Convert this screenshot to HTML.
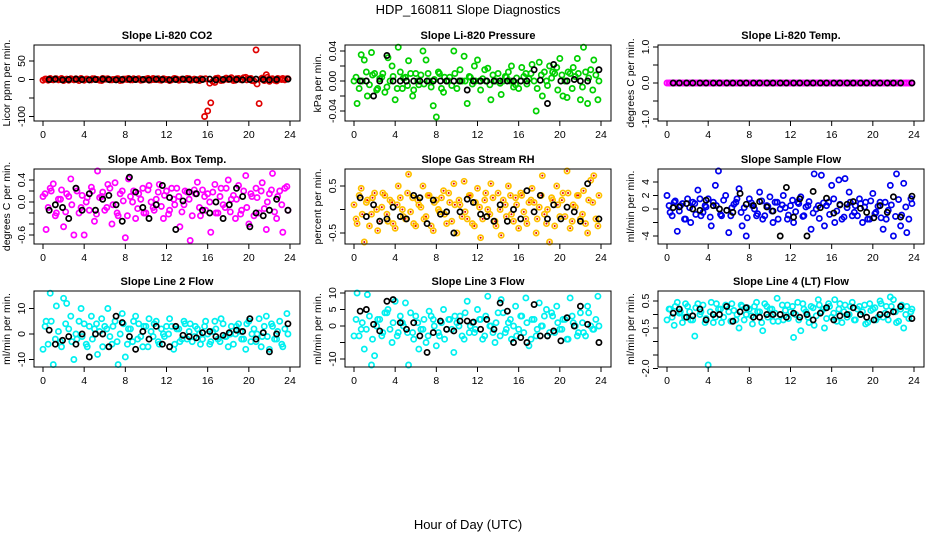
<!DOCTYPE html>
<html><head><meta charset="utf-8">
<style>
html,body{margin:0;padding:0;background:#fff;}
svg{display:block;font-family:"Liberation Sans",Arial,sans-serif;}
</style></head>
<body>
<svg id="chart" width="936" height="540" viewBox="0 0 936 540" xmlns="http://www.w3.org/2000/svg">
<rect width="936" height="540" fill="#fff"/>
<text x="468" y="14" font-size="13" text-anchor="middle">HDP_160811  Slope Diagnostics</text>
<text x="468" y="529" font-size="13" text-anchor="middle">Hour of Day (UTC)</text>
</svg>
<script>
const hoursC=[0.0,0.3,0.7,1.0,1.3,1.7,2.0,2.3,2.7,3.0,3.3,3.7,4.0,4.3,4.7,5.0,5.3,5.7,6.0,6.3,6.7,7.0,7.3,7.7,8.0,8.3,8.7,9.0,9.3,9.7,10.0,10.3,10.7,11.0,11.3,11.7,12.0,12.3,12.7,13.0,13.3,13.7,14.0,14.3,14.7,15.0,15.3,15.7,16.0,16.3,16.7,17.0,17.3,17.7,18.0,18.3,18.7,19.0,19.3,19.7,20.0,20.3,20.7,21.0,21.3,21.7,22.0,22.3,22.7,23.0,23.3,23.7];
const hoursD=[0.2,0.5,0.8,1.2,1.5,1.8,2.2,2.5,2.8,3.2,3.5,3.8,4.2,4.5,4.8,5.2,5.5,5.8,6.2,6.5,6.8,7.2,7.5,7.8,8.2,8.5,8.8,9.2,9.5,9.8,10.2,10.5,10.8,11.2,11.5,11.8,12.2,12.5,12.8,13.2,13.5,13.8,14.2,14.5,14.8,15.2,15.5,15.8,16.2,16.5,16.8,17.2,17.5,17.8,18.2,18.5,18.8,19.2,19.5,19.8,20.2,20.5,20.8,21.2,21.5,21.8,22.2,22.5,22.8,23.2,23.5,23.8];
const hoursK=[0.6,1.2,1.9,2.5,3.2,3.8,4.5,5.1,5.8,6.4,7.1,7.7,8.4,9.0,9.7,10.3,11.0,11.6,12.3,12.9,13.6,14.2,14.9,15.5,16.2,16.8,17.5,18.1,18.8,19.4,20.1,20.7,21.4,22.0,22.7,23.8];
const xTicks=[0,4,8,12,16,20,24];

const co2C=[-2,1,3,-1,2,0,-3,1,2,-1,0,3,-2,1,-1,2,0,-3,1,2,-1,0,2,-2,1,3,-1,0,2,-1,1,-2,3,0,-1,2,0,-3,2,1,-1,0,3,-2,1,-1,2,-100,-85,-63,-8,4,-3,2,0,5,-2,3,-1,6,2,-3,80,-65,4,13,-5,2,-4,1,3,2];
const co2D=[1,-2,0,2,-1,3,0,-2,1,2,-3,0,1,-1,2,0,-2,3,1,-1,0,2,-3,1,0,-1,2,1,-2,0,3,-1,0,2,-2,1,0,-1,3,-2,1,0,2,-1,0,-3,1,2,-10,-5,3,0,-2,4,1,-3,2,0,5,-1,3,-4,-12,2,-3,6,1,-2,3,0,-1,2];
const co2K=[0,1,-1,0,1,0,-1,0,1,0,-1,0,1,0,0,-1,1,0,-1,0,1,0,-1,0,1,-1,0,1,0,-1,0,1,0,-1,0,1];
const presC=[0.0,-0.03,0.035,0.028,-0.02,0.038,0.01,-0.01,0.005,-0.015,0.031,0.02,-0.025,0.045,-0.01,0.005,0.027,-0.02,0.01,-0.005,0.04,0.028,0.0,-0.033,-0.048,0.01,-0.015,0.0,0.005,0.04,-0.01,0.015,0.033,-0.03,0.005,0.02,0.028,-0.012,0.015,0.017,-0.025,0.0,0.01,-0.018,0.006,0.012,0.02,-0.005,-0.01,0.018,0.01,0.003,0.022,-0.04,0.025,-0.02,0.0,0.02,0.012,0.018,0.03,-0.02,-0.022,0.01,0.018,0.03,-0.025,0.045,-0.03,0.015,0.028,-0.025];
const presD=[0.005,-0.01,0.0,0.012,-0.005,0.008,-0.012,0.003,0.01,-0.008,0.0,0.006,-0.01,0.012,0.004,-0.006,0.01,-0.012,0.0,0.008,-0.004,0.01,-0.008,0.002,0.012,-0.01,0.005,0.0,-0.006,0.01,0.0,0.0,0.0,0.006,-0.004,0.0,0.0,0.003,0.0,-0.005,0.008,0.0,-0.003,0.0,0.005,0.0,-0.008,0.004,0.0,0.006,-0.004,0.01,0.0,-0.01,0.008,0.012,-0.006,0.004,0.01,-0.012,0.008,0.0,0.012,-0.01,0.006,0.01,-0.008,0.012,0.004,-0.012,0.008,0.0];
const presK=[0,0,-0.02,0,0.034,0,0,0,0,0,0,0,0,0,0,0,-0.012,0,0,0,0,0,0,0,0,0,0.015,0.001,-0.03,0.022,0,0,0.002,0,0,0.015];
const tempC=[0,0,0,0,0,0,0,0,0,0,0,0,0,0,0,0,0,0,0,0,0,0,0,0,0,0,0,0,0,0,0,0,0,0,0,0,0,0,0,0,0,0,0,0,0,0,0,0,0,0,0,0,0,0,0,0,0,0,0,0,0,0,0,0,0,0,0,0,0,0,0,0];
const tempD=[0,0,0,0,0,0,0,0,0,0,0,0,0,0,0,0,0,0,0,0,0,0,0,0,0,0,0,0,0,0,0,0,0,0,0,0,0,0,0,0,0,0,0,0,0,0,0,0,0,0,0,0,0,0,0,0,0,0,0,0,0,0,0,0,0,0,0,0,0,0,0,0];
const tempK=[0,0,0,0,0,0,0,0,0,0,0,0,0,0,0,0,0,0,0,0,0,0,0,0,0,0,0,0,0,0,0,0,0,0,0,0];
const ambC=[0.1,-0.5,0.25,0.33,-0.2,0.05,-0.45,0.15,0.42,-0.6,0.2,-0.1,-0.6,0.08,0.27,-0.35,0.6,0.1,-0.15,0.32,-0.4,0.35,-0.25,0.2,-0.65,0.42,0.0,-0.3,0.15,0.25,-0.2,0.3,-0.1,0.05,0.32,-0.3,0.2,-0.15,0.05,0.25,-0.45,-0.05,0.18,-0.7,0.22,0.36,-0.25,0.1,0.15,-0.55,0.32,-0.2,0.25,-0.1,0.4,0.05,-0.3,0.3,-0.15,0.48,-0.4,0.1,0.25,-0.2,0.35,-0.5,0.15,0.52,-0.3,0.2,-0.55,0.28];
const ambD=[0.15,-0.1,0.2,-0.25,0.05,0.22,-0.18,0.1,-0.05,0.25,-0.2,0.12,0.0,-0.15,0.2,-0.22,0.08,0.18,-0.1,0.25,-0.05,-0.2,0.15,0.02,-0.25,0.1,0.2,-0.12,0.05,-0.2,0.22,0.0,-0.15,0.18,-0.08,0.12,-0.22,0.25,-0.05,0.1,-0.18,0.2,0.05,-0.25,0.15,-0.1,0.22,-0.15,0.0,0.18,-0.2,0.1,-0.05,0.25,-0.18,0.12,0.05,-0.22,0.2,-0.1,0.15,-0.25,0.08,0.2,-0.12,0.0,0.22,-0.18,0.1,-0.05,0.25,-0.15];
const ambK=[-0.15,-0.05,-0.1,-0.3,0.25,-0.15,0.15,-0.15,0.05,0.12,-0.05,-0.35,0.45,0.18,-0.1,-0.3,-0.05,0.3,0.08,-0.5,0.02,0.18,0.15,-0.15,-0.2,0.0,-0.3,-0.05,0.25,0.1,-0.45,-0.2,-0.25,-0.15,0.05,-0.15];
const rhC=[0.1,-0.3,0.45,-0.7,0.2,-0.1,0.35,-0.45,0.05,0.3,-0.25,0.15,-0.4,0.5,0.0,-0.2,0.75,0.25,-0.35,0.1,0.5,-0.15,0.3,-0.45,0.2,-0.05,0.4,-0.3,0.15,0.55,-0.5,0.1,0.6,-0.2,0.3,-0.35,0.45,-0.6,0.2,0.0,0.55,-0.25,0.35,-0.55,0.1,0.5,-0.1,0.25,-0.4,0.3,-0.2,0.15,0.45,-0.5,0.05,0.72,-0.3,-0.75,0.2,0.5,-0.15,0.35,0.9,-0.4,0.1,0.3,-0.2,0.4,-0.5,0.62,0.72,-0.35];
const rhD=[-0.2,0.3,-0.1,0.15,-0.35,0.25,0.0,-0.25,0.35,-0.1,0.2,-0.3,0.1,0.25,-0.15,0.35,-0.05,-0.3,0.2,0.05,-0.2,0.3,-0.35,0.15,0.0,0.25,-0.1,0.35,-0.25,0.1,0.2,-0.15,-0.05,0.3,-0.3,0.15,0.05,-0.2,0.35,-0.1,0.25,-0.35,0.0,0.2,-0.15,0.3,-0.25,0.1,0.35,-0.05,-0.3,0.2,0.15,-0.2,0.3,-0.1,0.0,0.25,-0.35,0.1,0.2,-0.15,0.35,-0.25,0.05,0.3,-0.1,-0.3,0.2,0.15,-0.2,0.3];
const rhK=[0.25,-0.15,0.1,-0.25,-0.2,0.05,-0.15,-0.2,0.3,0.25,-0.3,0.2,-0.1,-0.05,-0.5,-0.05,0.22,0.15,-0.1,-0.15,-0.25,0.1,-0.25,0.0,-0.2,0.4,-0.05,0.3,-0.2,0.1,-0.2,0.05,-0.05,-0.25,0.55,-0.2];
const sampC=[2,-0.5,1,-3.3,0.5,-1.5,1.5,-2,0.8,2.8,-1,0.5,1.5,-2.5,3.5,5.8,-1,2,-3.5,0.2,1,3,-2.5,-4,1.5,0.5,-1,2.5,-1.5,0.5,1.8,-2,1,0,2,-1.5,0.5,-2,1,1.8,-1,0.5,-3,5.2,0.5,5,-2.5,1,3.5,-2,4.3,-1.5,4.5,2.5,-1,0.5,1.5,-2,1,-1.5,2.3,-0.5,1,-3,-1.5,3.5,-4,5.2,-2.5,3.8,-3.5,1.5];
const sampD=[0.5,-1,1.2,-0.3,0.8,-1.5,0.2,1,-0.8,1.5,-0.5,0.3,-1.2,1,0.5,-0.8,1.3,-0.2,-1,0.7,1.5,-0.5,0.2,-1.3,0.9,0.0,-0.7,1.2,-1,0.4,-0.3,1,-1.5,0.6,0.2,-0.9,1.3,-0.4,0.8,-1.1,0.3,1.1,-0.6,0.0,-1.4,0.9,0.5,-0.8,1.5,-0.3,0.7,-1.2,0.2,1,-0.5,-1,0.8,0.3,-1.5,1.2,-0.7,0.4,-1.3,1,-0.2,0.6,-1.1,1.4,-0.9,0.3,-1.5,0.8];
const sampK=[0.2,0.3,0.8,0,-0.2,1.3,0.5,0,-0.2,-0.5,2.3,0.7,0.5,1.1,0.3,-0.3,-4,3.2,-1.2,1.5,-4,2.6,0.2,1.6,-0.6,0.6,0.7,1.1,0.1,-0.5,-1.3,0.5,-0.5,1.8,-1.2,1.9];
const l2C=[-6,5,16,-12,11,-3,14,12,7,-10,-2,10,4,-5,7,2,-8,6,3,10,-4,5,-12,8,-9,2,-3,7,4,-5,3,6,-1,5,-4,0,3,6,-6,2,-3,5,-2,4,-1,2,-4,3,0,-3,5,-2,6,-1,-5,3,0,4,-2,-6,5,0,-3,6,-1,7,-6,3,-2,5,-5,8];
const l2D=[3,-4,5,-2,1,-5,4,2,-3,0,5,-1,-4,3,-2,4,1,-5,2,-1,3,-3,0,4,-4,2,5,-2,-1,3,-5,1,4,-3,2,-1,0,3,-4,2,-2,4,1,-3,3,0,-2,5,-4,1,2,-3,4,-1,0,-4,3,1,-2,4,-3,2,0,-5,3,-1,4,-2,1,-4,2,0];
const l2K=[1.5,-4,-2.5,-1,-4,0,-9,0,0,-5,7,4.5,-1,-6,1,-2,3,-4,-5,3,-0.5,-1,-1.5,0.5,1,-1,-0.5,0.5,1.5,1,6,-2,0.5,-7,0,4];
const l3C=[-3,10,-1,-7,9.5,-12,-9,2,-3,4,5,-5,7.5,-2,1,7,-12,-2,3,-7,-1,-5,4.5,2,-6,-3,5,-1,2,-8,1,3,-4,7.5,0,-2,5,2,-3,9,0,-5,4,8,-2,1,-4,6,-1,3,8.5,-6,2,-3,7,0,5,-2,3,6,-1,2,-4,8.5,1,-3,4,-2,6,0,-1,9];
const l3D=[2,-3,1,-1,3,-4,0,2,-2,4,-1,1,-3,3,0,-2,4,-4,1,-1,2,-3,3,0,-2,1,-4,2,-1,3,0,-3,4,-2,1,-1,2,-4,3,0,-2,1,-3,4,-1,2,0,-3,3,-2,1,-4,2,-1,0,3,-3,4,-2,1,-1,2,-4,3,0,-2,1,-3,4,-1,2,0];
const l3K=[4.5,5,0.5,-1.5,7.5,8,1,-1,1,-3,-8,-2,1.5,-1,-1.5,1.5,1.5,1.2,-1,2,-1,7,4.5,-5,-3.5,-5,6.5,-3,-3,-1.5,-4.5,2.5,0,6,0.5,-5];
const l4C=[-0.2,0.2,-0.4,0.45,0.1,-0.1,0.3,-0.2,-0.8,0.4,0.1,-0.3,-1.95,0.45,-0.1,0.2,-0.3,0.35,0.1,0.4,-0.2,-0.5,0.3,0.0,0.2,-0.35,0.45,0.1,-0.6,0.3,0.2,-0.25,0.6,0.0,-0.2,0.35,0.1,-0.85,0.45,-0.6,0.2,-0.1,0.3,-0.4,0.55,0.1,-0.5,0.4,-0.1,0.55,0.2,-0.3,0.35,0.0,0.45,-0.2,0.3,0.1,-0.35,0.4,0.2,-0.2,0.5,-0.1,0.3,0.65,0.55,-0.3,0.2,-0.5,0.3,0.1];
const l4D=[0.2,-0.1,0.3,0.05,-0.3,0.4,0.1,-0.2,0.25,0.0,0.35,-0.15,0.1,-0.3,0.4,0.2,-0.1,0.3,-0.25,0.15,0.0,0.35,-0.2,0.25,-0.05,0.3,0.1,-0.3,0.4,-0.1,0.2,0.05,-0.25,0.35,0.15,-0.15,0.3,0.0,-0.2,0.4,0.1,-0.3,0.25,-0.05,0.35,0.2,-0.15,0.3,0.05,-0.25,0.4,0.1,-0.1,0.3,-0.2,0.2,0.0,0.35,-0.3,0.15,0.25,-0.1,0.4,0.05,-0.2,0.3,0.1,-0.25,0.35,0.0,-0.15,0.2];
const l4K=[0.05,0.2,-0.1,-0.05,0.2,-0.2,0.0,0.0,0.3,-0.25,0.1,0.25,-0.1,-0.1,0.0,0.0,0.0,-0.1,0.05,-0.1,0.0,-0.2,0.05,0.25,-0.2,-0.05,0.0,0.25,0.0,-0.1,-0.2,0.0,0.0,0.1,0.3,-0.15];

const panels=[
 {name:'co2',title:'Slope Li-820 CO2',yl:'Licor ppm per min.',col:0,row:0,color:'#e00000',c:co2C,d:co2D,k:co2K,y0:79.5,ppu:0.37,ticks:[50,0,-50,-100],labels:['50','0','','-100']},
 {name:'pressure',title:'Slope Li-820 Pressure',yl:'kPa per min.',col:1,row:0,color:'#00d000',c:presC,d:presD,k:presK,y0:81,ppu:750,ticks:[0.04,0.02,0,-0.02,-0.04],labels:['0.04','','0.00','','-0.04']},
 {name:'li820-temp',title:'Slope Li-820 Temp.',yl:'degrees C per min.',col:2,row:0,color:'#ff00ff',c:tempC,d:tempD,k:tempK,y0:83,ppu:36,ticks:[1,0.5,0,-0.5,-1],labels:['1.0','','0.0','','-1.0']},
 {name:'amb-box-temp',title:'Slope Amb. Box Temp.',yl:'degrees C per min.',col:0,row:1,color:'#ff00ff',c:ambC,d:ambD,k:ambK,y0:202,ppu:55,ticks:[0.4,0.2,0,-0.2,-0.4,-0.6],labels:['0.4','','0.0','','','-0.6']},
 {name:'gas-stream-rh',title:'Slope Gas Stream RH',yl:'percent per min.',col:1,row:1,color:'#ffc000',c:rhC,d:rhD,k:rhK,y0:209.5,ppu:47,ticks:[0.5,0,-0.5],labels:['0.5','','-0.5']},
 {name:'sample-flow',title:'Slope Sample Flow',yl:'ml/min per min.',col:2,row:1,color:'#0000ee',c:sampC,d:sampD,k:sampK,y0:209,ppu:6.75,ticks:[4,2,0,-2,-4],labels:['4','2','0','','-4']},
 {name:'line2-flow',title:'Slope Line 2 Flow',yl:'ml/min per min.',col:0,row:2,color:'#00f0f0',c:l2C,d:l2D,k:l2K,y0:334,ppu:2.55,ticks:[10,0,-10],labels:['10','0','-10']},
 {name:'line3-flow',title:'Slope Line 3 Flow',yl:'ml/min per min.',col:1,row:2,color:'#00f0f0',c:l3C,d:l3D,k:l3K,y0:326,ppu:3.3,ticks:[10,5,0,-5,-10],labels:['10','5','0','','-10']},
 {name:'line4-flow',title:'Slope Line 4 (LT) Flow',yl:'ml/min per min.',col:2,row:2,color:'#00f0f0',c:l4C,d:l4D,k:l4K,y0:314.5,ppu:27,ticks:[0.5,0,-0.5,-1,-1.5,-2],labels:['0.5','','-0.5','','','-2.0']}
];
const colL=[34,345,658], rowT=[45,169,291], rowB=[121,244,367], W=266;
const NS='http://www.w3.org/2000/svg';
const svg=document.getElementById('chart');
function mk(tag,attrs,parent){const e=document.createElementNS(NS,tag);for(const a in attrs)e.setAttribute(a,attrs[a]);(parent||svg).appendChild(e);return e;}

panels.forEach(p=>{
  const L=colL[p.col],T=rowT[p.row],B=rowB[p.row],R=L+W;
  const xs=h=>L+9+h*(247/24);
  const ys=v=>p.y0-v*p.ppu;
  const g=mk('g',{});
  
  
  const t=mk('text',{x:(L+R)/2,y:T-6,'font-size':11,'font-weight':'bold','text-anchor':'middle'},g);
  t.textContent=p.title;
  
  
  const yl=mk('text',{transform:`translate(${L-24},${(T+B)/2}) rotate(-90)`,'font-size':10.5,'text-anchor':'middle'},g);
  yl.textContent=p.yl;
  
  
  const pts=mk('g',{},g);
  
  
  function drawSet(vals,hrs){
    vals.forEach((v,i)=>{
      if(hrs[i]===undefined) return;
      const y=Math.max(T+2,Math.min(B-2,ys(v)));
      const c=mk('circle',{cx:xs(hrs[i]),cy:y,r:2.6,fill:'none',stroke:p.color,'stroke-width':1.7},pts);
      
      
      if(p.name==='gas-stream-rh'){mk('circle',{cx:xs(hrs[i]),cy:y,r:1,fill:'#e00000'},pts);}
    });
  }
  drawSet(p.d,hoursD);
  drawSet(p.c,hoursC);
  const kp=mk('g',{},g);
  
  
  p.k.forEach((v,i)=>{
    const c=mk('circle',{cx:xs(hoursK[i]),cy:ys(v),r:2.6,fill:'none',stroke:'#000','stroke-width':1.7},kp);
    
    
  });
  const fr=mk('rect',{x:L,y:T,width:W,height:B-T,fill:'none',stroke:'#000','stroke-width':1},g);
  
  
  const ya=mk('g',{},g);
  
  
  p.ticks.forEach((v,i)=>{
    const y=ys(v);
    mk('line',{x1:L-5,y1:y,x2:L,y2:y,stroke:'#000'},ya);
    if(p.labels[i]){
      const tl=mk('text',{transform:`translate(${L-9},${y}) rotate(-90)`,'font-size':10.5,'text-anchor':'middle'},ya);
      tl.textContent=p.labels[i];
      
      
    }
  });
  const xa=mk('g',{},g);
  
  
  xTicks.forEach(h=>{
    mk('line',{x1:xs(h),y1:B,x2:xs(h),y2:B+5,stroke:'#000'},xa);
    const tl=mk('text',{x:xs(h),y:B+17,'font-size':10.5,'text-anchor':'middle'},xa);
    tl.textContent=h;
    
    
  });
});
</script>
</body></html>
